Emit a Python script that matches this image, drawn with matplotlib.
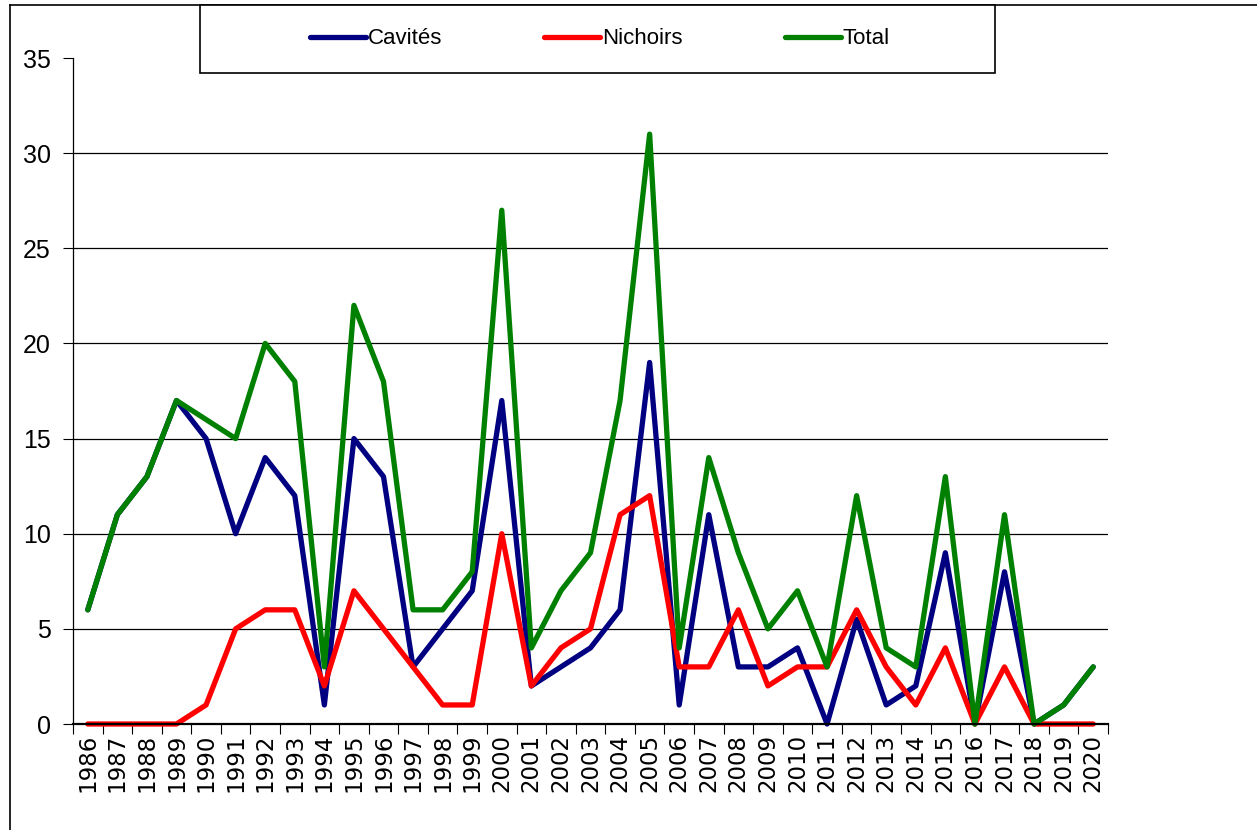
import matplotlib.pyplot as plt
import numpy as np
from matplotlib.lines import Line2D
from matplotlib.patches import Rectangle
from matplotlib.ticker import FixedLocator

plt.rcParams['font.family'] = ['Liberation Sans', 'DejaVu Sans']

years = [str(y) for y in range(1986, 2021)]
cavites = [6, 11, 13, 17, 15, 10, 14, 12, 1, 15, 13, 3, 5, 7, 17, 2, 3, 4, 6, 19,
           1, 11, 3, 3, 4, 0, 5.5, 1, 2, 9, 0, 8, 0, 1, 3]
nichoirs = [0, 0, 0, 0, 1, 5, 6, 6, 2, 7, 5, 3, 1, 1, 10, 2, 4, 5, 11, 12,
            3, 3, 6, 2, 3, 3, 6, 3, 1, 4, 0, 3, 0, 0, 0]
total = [6, 11, 13, 17, 16, 15, 20, 18, 3, 22, 18, 6, 6, 8, 27, 4, 7, 9, 17, 31,
         4, 14, 9, 5, 7, 3, 12, 4, 3, 13, 0, 11, 0, 1, 3]
y_ticks = [0, 5, 10, 15, 20, 25, 30, 35]

W, H = 1257, 830
fig = plt.figure(figsize=(W / 100, H / 100), dpi=100)
ax = fig.add_axes([73 / W, 1 - 724 / H, (1108 - 73) / W, (724 - 58) / H])

x = np.arange(len(years))
style = dict(lw=3.8, solid_capstyle='round', solid_joinstyle='round', clip_on=False)
ax.plot(x, cavites, color='#000080', label='Cavités', **style)
ax.plot(x, nichoirs, color='#ff0000', label='Nichoirs', **style)
ax.plot(x, total, color='#008000', label='Total', **style)

ax.set_xlim(-0.5, len(years) - 0.5)
ax.set_ylim(0, 35)
ax.set_yticks(y_ticks)
ax.set_xticks(x)
ax.set_xticklabels(years, rotation=90, fontsize=16.5, family=['DejaVu Sans'])
ax.xaxis.set_minor_locator(FixedLocator(np.arange(-0.5, len(years), 1)))
ax.tick_params(axis='x', which='major', length=0, pad=7)
ax.tick_params(axis='x', which='minor', length=7, width=0.8, direction='out')
ax.tick_params(axis='y', length=7, width=0.8, direction='out', pad=9, labelsize=18)

ax.yaxis.grid(True, color='black', lw=0.9)
ax.get_ygridlines()[-1].set_visible(False)
ax.set_axisbelow(True)
for s in ['top', 'right']:
    ax.spines[s].set_visible(False)
ax.spines['left'].set_linewidth(0.9)
ax.spines['bottom'].set_linewidth(1.6)

# frame lines around the chart area
fig.add_artist(Line2D([10 / W, 1], [1 - 5 / H, 1 - 5 / H], color='black', lw=1.2))
fig.add_artist(Line2D([10 / W, 10 / W], [0, 1 - 5 / H], color='black', lw=1.2))

# legend box
fig.add_artist(Rectangle((200 / W, 1 - 73 / H), 795 / W, 68 / H, facecolor='white',
                         edgecolor='black', lw=1.2, zorder=5))
leg = fig.legend(loc='center', bbox_to_anchor=(600 / W, 1 - 39 / H), ncol=3, frameon=False,
                 fontsize=16, handlelength=2.5, handletextpad=0.1, columnspacing=4.6)
leg.set_zorder(6)

fig.savefig('out.png', dpi=100)
